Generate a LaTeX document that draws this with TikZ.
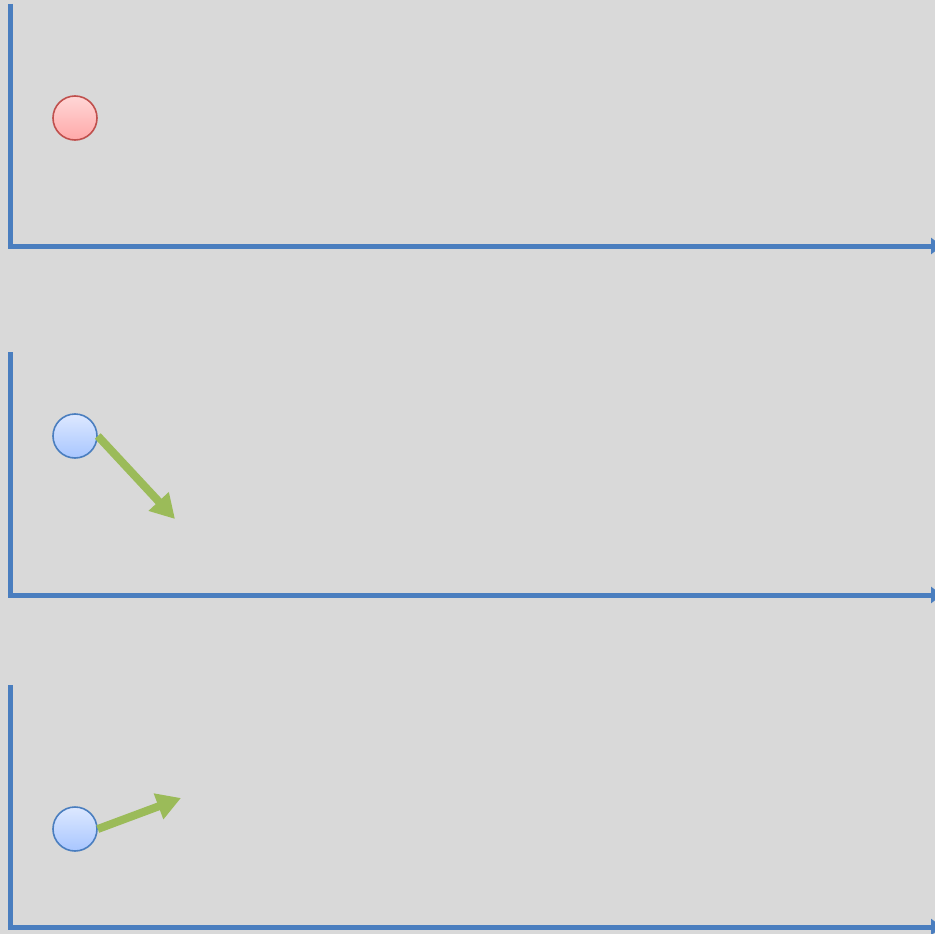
\documentclass[tikz,border=0pt]{standalone}
\usetikzlibrary{arrows.meta}
\definecolor{bggray}{HTML}{D9D9D9}
\definecolor{axisblue}{HTML}{4A7EBF}
\definecolor{velgreen}{HTML}{9BBB59}
\definecolor{redrim}{HTML}{C0504D}
\definecolor{redtop}{HTML}{FFD6D6}
\definecolor{redbot}{HTML}{FFA9A9}
\definecolor{bluerim}{HTML}{4A7EBF}
\definecolor{bluetop}{HTML}{DDE8FF}
\definecolor{bluebot}{HTML}{A8C6FF}
\tikzset{
  axis/.style={draw=axisblue, line width=5pt},
  ball/.style={circle, minimum size=44pt, inner sep=0pt, line width=1.6pt},
  redball/.style={ball, draw=redrim, top color=redtop, bottom color=redbot},
  blueball/.style={ball, draw=bluerim, top color=bluetop, bottom color=bluebot},
  velocity/.style={draw=velgreen, line width=8pt, -{Triangle[length=24pt,width=26pt]}}
}
\begin{document}
\begin{tikzpicture}[x=1pt, y=-1pt]
  \useasboundingbox (0,0) rectangle (935,934);
  \clip (0,0) rectangle (935,934);
  \fill[bggray] (0,0) rectangle (935,934);
  % top panel: ball at rest
  \draw[axis] (10,4) -- (10,246);
  \draw[axis, -{Triangle[length=11pt,width=16pt]}] (8,246) -- (942,246);
  \node[redball] (ballA) at (75,118) {};
  % middle panel: ball moving down and right
  \draw[axis] (10,352) -- (10,595);
  \draw[axis, -{Triangle[length=11pt,width=16pt]}] (8,595) -- (942,595);
  \node[blueball] (ballB) at (75,436) {};
  \coordinate (tipB) at (175,519);
  \draw[velocity] (ballB.east) -- (tipB);
  % bottom panel: ball moving up and right
  \draw[axis] (10,685) -- (10,928);
  \draw[axis, -{Triangle[length=11pt,width=16pt]}] (8,927) -- (942,927);
  \node[blueball] (ballC) at (75,829) {};
  \coordinate (tipC) at (181,798);
  \draw[velocity] (ballC.east) -- (tipC);
\end{tikzpicture}
\end{document}
